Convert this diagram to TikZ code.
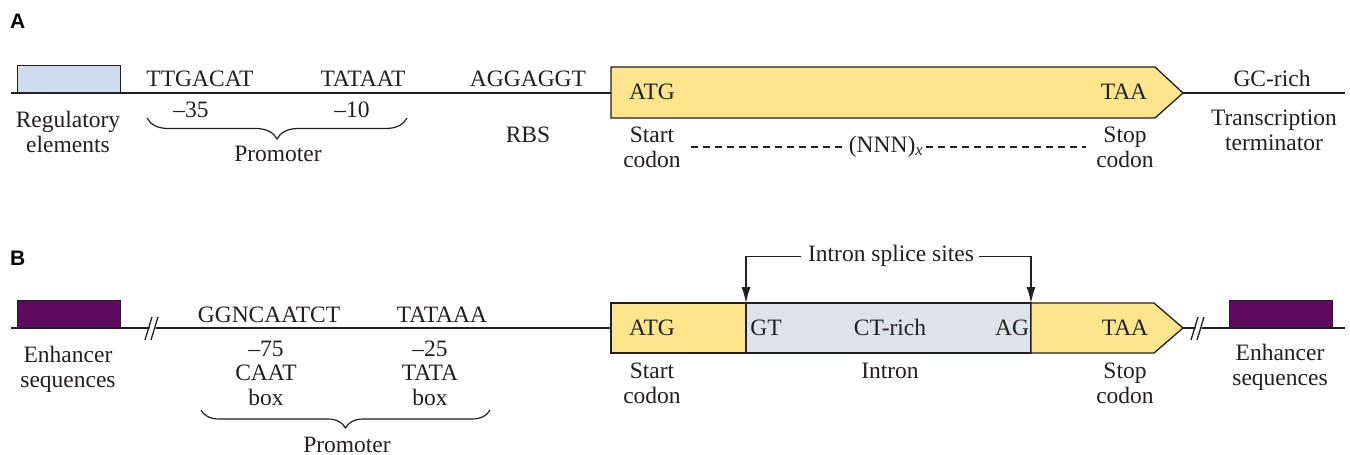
\documentclass[tikz,border=0pt]{standalone}
\usepackage{fontspec}
\setmainfont{Liberation Serif}
\newfontfamily\panelfont{Liberation Sans}
\usetikzlibrary{arrows.meta,decorations.pathreplacing,positioning}
\definecolor{genetext}{HTML}{231F20}
\definecolor{regblue}{HTML}{CFDCEE}
\definecolor{cdsyellow}{HTML}{FDE58E}
\definecolor{introngray}{HTML}{DDE3E8}
\definecolor{enhpurple}{HTML}{5E0A5E}

\begin{document}
\begin{tikzpicture}[x=1pt,y=-1pt,
    font=\fontsize{23.5}{24.5}\selectfont,
    lbl/.style={inner sep=0pt,align=center,anchor=base,text=genetext},
    panel/.style={inner sep=0pt,anchor=base west,text=black,
      font=\fontsize{21}{24}\selectfont\panelfont\bfseries},
    dna/.style={draw=genetext,line width=1.6pt},
    part/.style={draw=genetext,line width=1.3pt},
    elem/.style={part,inner sep=0pt,anchor=south west,minimum height=27pt},
    brace/.style={draw=genetext,line width=1.2pt,
      decorate,decoration={brace,mirror,amplitude=#1}},
    span/.style={draw=genetext,line width=1.4pt,dash pattern=on 7pt off 5pt},
    splicearr/.style={draw=genetext,line width=1.3pt,
      -{Latex[length=16pt,width=9pt]}},
    cut/.style={draw=genetext,line width=1.3pt}
  ]
  \useasboundingbox (0,0) rectangle (1350,455);

  % ---- panel A: prokaryotic gene
  \node[panel] (labA) at (10,28) {A};
  \draw[dna] (11,93) -- (1345,93);
  \node[elem,fill=regblue,minimum width=103pt] (regbox) at (17,93) {};
  \draw[part,fill=cdsyellow] (611,67) -- (1155,67) -- (1183,93)
    -- (1155,118) -- (611,118) -- cycle;

  % multi-line labels sit on the baseline of their last line
  \node[lbl] (m35seq) at (200,86) {TTGACAT};
  \node[lbl] (m10seq) at (363,86) {TATAAT};
  \node[lbl] (rbsseq) at (528,86) {AGGAGGT};
  \node[lbl] (gcrich) at (1272,86) {GC-rich};
  \node[lbl] (m35) at (191,117) {--35};
  \node[lbl] (m10) at (352,117) {--10};
  \node[lbl] (regA) at (68,152) {Regulatory\\elements};
  \node[lbl] (promA) at (278,161) {Promoter};
  \node[lbl] (rbs) at (528,142) {RBS};
  \node[lbl] (atgA) at (652,99) {ATG};
  \node[lbl] (taaA) at (1124,99) {TAA};
  \node[lbl] (startA) at (652,167) {Start\\codon};
  \node[lbl] (stopA) at (1125,167) {Stop\\codon};
  \node[lbl] (nnn) at (886,152) {(NNN)\textsubscript{\textit{x}}};
  \node[lbl] (termA) at (1274,150) {Transcription\\terminator};

  \draw[brace=21pt] (147,118) -- (407,118);
  \draw[span,shorten <=10pt,shorten >=3pt] (startA.east) -- (startA.east -| nnn.west);
  \draw[span,shorten <=3pt,shorten >=10pt] (nnn.east |- stopA.west) -- (stopA.west);

  % ---- panel B: eukaryotic gene
  \node[panel] (labB) at (10,265) {B};
  \draw[dna] (11,328) -- (1345,328);
  \node[elem,fill=enhpurple,minimum width=103pt] (enhboxL) at (17,328) {};
  \node[elem,fill=enhpurple,minimum width=103pt] (enhboxR) at (1229,328) {};
  \draw[part,fill=cdsyellow] (611,303) rectangle (746,353);
  \draw[part,fill=introngray] (746,303) rectangle (1031,353);
  \draw[part,fill=cdsyellow] (1031,303) -- (1154,303) -- (1183,328)
    -- (1154,353) -- (1031,353) -- cycle;
  \coordinate (gt) at (746,303);
  \coordinate (ag) at (1031,303);

  \foreach \cx in {151,1197} {
    \fill[white] (\cx-5,340) -- (\cx+2,317) -- (\cx+8,317) -- (\cx+1,340) -- cycle;
    \draw[cut] (\cx-6,340) -- (\cx+1,317);
    \draw[cut] (\cx,340) -- (\cx+7,317);
  }

  \node[lbl] (ggn) at (269,322) {GGNCAATCT};
  \node[lbl] (tataaa) at (442,322) {TATAAA};
  \node[lbl] (caat) at (266,405) {--75\\CAAT\\box};
  \node[lbl] (tata) at (430,405) {--25\\TATA\\box};
  \node[lbl] (promB) at (347,452) {Promoter};
  \node[lbl] (enhL) at (68,387) {Enhancer\\sequences};
  \node[lbl] (enhR) at (1280,385) {Enhancer\\sequences};
  \node[lbl] (atgB) at (652,335) {ATG};
  \node[lbl] (gtB) at (766,335) {GT};
  \node[lbl] (ctrich) at (890,335) {CT-rich};
  \node[lbl] (agB) at (1012,335) {AG};
  \node[lbl] (taaB) at (1125,335) {TAA};
  \node[lbl] (startB) at (652,403) {Start\\codon};
  \node[lbl] (intronB) at (890,378) {Intron};
  \node[lbl] (stopB) at (1125,403) {Stop\\codon};
  \node[lbl] (splice) at (891,261) {Intron splice sites};

  \draw[brace=18pt] (201,410) -- (490,410);
  \draw[splicearr] ([xshift=-7pt,yshift=2.5pt]splice.mid west) -| (gt);
  \draw[splicearr] ([xshift=5pt,yshift=2.5pt]splice.mid east) -| (ag);
\end{tikzpicture}
\end{document}
